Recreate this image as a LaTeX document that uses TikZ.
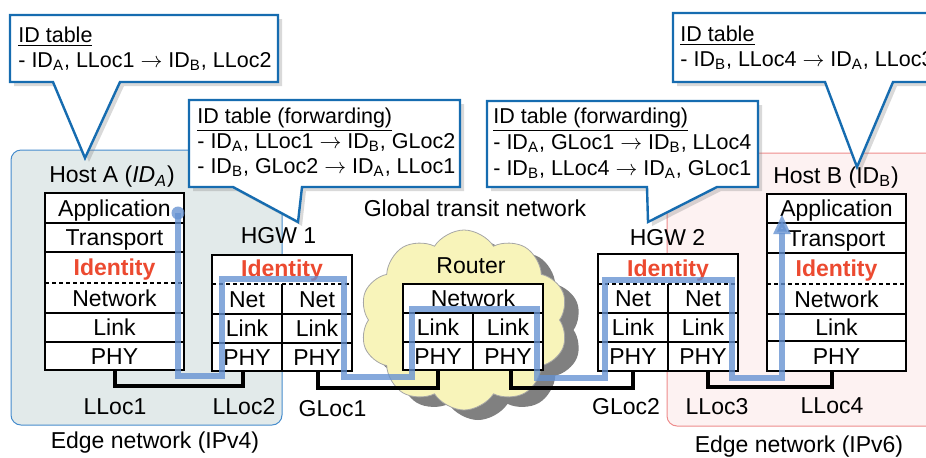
\documentclass[tikz,border=0pt]{standalone}
\usepackage{fontspec}
\setmainfont{Liberation Sans}
\usepackage{tikz}
\usetikzlibrary{arrows.meta,positioning,shapes.symbols,shadows}

\definecolor{calloutblue}{RGB}{22,108,176}
\definecolor{flowblue}{RGB}{100,145,210}
\definecolor{idred}{RGB}{236,74,48}
\definecolor{edgefourfill}{RGB}{226,234,234}
\definecolor{edgefourline}{RGB}{70,140,205}
\definecolor{edgesixfill}{RGB}{253,242,242}
\definecolor{edgesixline}{RGB}{238,140,140}
\definecolor{cloudfill}{RGB}{248,244,186}

\begin{document}
\begin{tikzpicture}[x=0.5pt,y=-0.5pt,
  every node/.style={inner sep=0pt,font=\fontsize{11.5}{13}\selectfont},
  cell/.style={text height=8.2pt,text depth=0pt},
  ident/.style={cell,font=\fontsize{11.5}{13}\selectfont\bfseries,text=idred},
  stack/.style={draw,line width=0.75pt,fill=white},
  sep/.style={line width=0.75pt},
  idsep/.style={line width=0.7pt,dash pattern=on 2pt off 1.5pt},
  edgefour/.style={draw=edgefourline,line width=0.5pt,fill=edgefourfill,rounded corners=5pt},
  edgesix/.style={draw=edgesixline,line width=0.5pt,fill=edgesixfill,rounded corners=5pt},
  callout/.style={draw=calloutblue,line width=1.2pt,fill=white,line join=miter,
    drop shadow={shadow xshift=2pt,shadow yshift=-2pt,opacity=0.3}},
  calltext/.style={anchor=base west,font=\fontsize{10.75}{13}\selectfont},
  router/.style={cloud,cloud puffs=10,cloud puff arc=115,cloud ignores aspect,draw=black!35,
    line width=0.4pt,fill=cloudfill,minimum width=104pt,minimum height=90pt,
    drop shadow={shadow xshift=7pt,shadow yshift=-5pt,fill=black!50,opacity=1}},
  wire/.style={line width=1.75pt,line join=miter},
  flow/.style={line width=3.3pt,flowblue,draw opacity=0.78,fill opacity=0.78,line join=miter},
  to/.style={flow,-{Triangle[width=8pt,length=10pt]}}]

  \clip (0,0) rectangle (926,457);

  \draw[edgefour] (11,150) rectangle (282,425);
  \draw[edgesix] (667,153) rectangle (960,426);

  \node[router] (cloud) at (464,320) {};
  \node[cell] (routername) at (471,265) {Router};
  \node[cell] (transit) at (475,208.5) {Global transit network};

  \draw[wire] (115,370) -- (115,386) -- (243,386) -- (243,371);
  \draw[wire] (318,371) -- (318,388) -- (438,388) -- (438,370);
  \draw[wire] (511,370) -- (511,388) -- (633,388) -- (633,371);
  \draw[wire] (708,371) -- (708,387) -- (832,387) -- (832,371);

  \draw[stack] (45,193) rectangle (184,370);
  \foreach \y in {223,252,313,342} \draw[sep] (45,\y) -- (184,\y);
  \draw[idsep] (45,283) -- (184,283);
  \node[cell] (a-app) at (114.5,208) {Application};
  \node[cell] (a-trans) at (114.5,237.5) {Transport};
  \node[ident] (a-id) at (114.5,267.5) {Identity};
  \node[cell] (a-net) at (114.5,298) {Network};
  \node[cell] (a-link) at (114.5,327.5) {Link};
  \node[cell] (a-phy) at (114.5,356) {PHY};

  \draw[stack] (212,255) rectangle (352,371);
  \foreach \y in {314,343} \draw[sep] (212,\y) -- (352,\y);
  \draw[idsep] (212,284) -- (352,284);
  \draw[sep] (282,284) -- (282,371);
  \node[ident] (g1-id) at (282,268.5) {Identity};
  \node[cell] (g1-netl) at (247,299) {Net};
  \node[cell] (g1-netr) at (317,299) {Net};
  \node[cell] (g1-linkl) at (247,328.5) {Link};
  \node[cell] (g1-linkr) at (317,328.5) {Link};
  \node[cell] (g1-phyl) at (247,357) {PHY};
  \node[cell] (g1-phyr) at (317,357) {PHY};

  \draw[stack] (403,284) rectangle (543,370);
  \foreach \y in {313,342} \draw[sep] (403,\y) -- (543,\y);
  \draw[sep] (473,313) -- (473,370);
  \node[cell] (r-net) at (473,298.5) {Network};
  \node[cell] (r-linkl) at (438,327.5) {Link};
  \node[cell] (r-linkr) at (508,327.5) {Link};
  \node[cell] (r-phyl) at (438,356) {PHY};
  \node[cell] (r-phyr) at (508,356) {PHY};

  \draw[stack] (598,254) rectangle (738,371);
  \foreach \y in {313,342} \draw[sep] (598,\y) -- (738,\y);
  \draw[idsep] (598,284) -- (738,284);
  \draw[sep] (668,284) -- (668,371);
  \node[ident] (g2-id) at (668,268.5) {Identity};
  \node[cell] (g2-netl) at (633,298.5) {Net};
  \node[cell] (g2-netr) at (703,298.5) {Net};
  \node[cell] (g2-linkl) at (633,327.5) {Link};
  \node[cell] (g2-linkr) at (703,327.5) {Link};
  \node[cell] (g2-phyl) at (633,356.5) {PHY};
  \node[cell] (g2-phyr) at (703,356.5) {PHY};

  \draw[stack] (767,194) rectangle (906,371);
  \foreach \y in {223,253,314,341} \draw[sep] (767,\y) -- (906,\y);
  \draw[idsep] (767,284) -- (906,284);
  \node[cell] (b-app) at (836.5,208.5) {Application};
  \node[cell] (b-trans) at (836.5,238) {Transport};
  \node[ident] (b-id) at (836.5,268.5) {Identity};
  \node[cell] (b-net) at (836.5,299) {Network};
  \node[cell] (b-link) at (836.5,327.5) {Link};
  \node[cell] (b-phy) at (836.5,356) {PHY};

  \node[cell] (hosta) at (112,174.5) {Host A (\textit{ID}\textsubscript{\textit{A}})};
  \node[cell] (hostb) at (836,175) {Host B (ID\textsubscript{B})};
  \node[cell] (hgw1) at (278.5,235.5) {HGW 1};
  \node[cell] (hgw2) at (667.5,237.5) {HGW 2};

  \node[cell] (lloc1) at (115,406.5) {LLoc1};
  \node[cell] (lloc2) at (244,406.5) {LLoc2};
  \node[cell] (gloc1) at (332.5,408.5) {GLoc1};
  \node[cell] (gloc2) at (626,406.5) {GLoc2};
  \node[cell] (lloc3) at (717,406.5) {LLoc3};
  \node[cell] (lloc4) at (832,405) {LLoc4};
  \node[cell] (edgefour) at (155,440) {Edge network (IPv4)};
  \node[cell] (edgesix) at (799,444) {Edge network (IPv6)};

  \coordinate (src) at (178,213);
  \coordinate (dst) at (782,214);
  \fill[flowblue,opacity=0.78] (src) circle (6.5);
  \draw[to] (src) -- (178,376) -- (222,376) -- (222,279) -- (344,279) -- (344,377)
    -- (412,377) -- (412,309) -- (537,309) -- (537,378) -- (605,378) -- (605,280)
    -- (732,280) -- (732,378) -- (782,378) -- (dst);

  \draw[callout] (10,15) -- (278,15) -- (278,82) -- (120,82) -- (85,158) -- (53,82) -- (10,82) -- cycle;
  \node[calltext] (ta-head) at (18,42) {\underline{ID table}};
  \node[calltext] (ta-row) at (18,67.5) {- ID\textsubscript{A}, LLoc1 $\rightarrow$ ID\textsubscript{B}, LLoc2};

  \draw[callout] (189,100) -- (460,100) -- (460,187) -- (302,187) -- (298,222) -- (233,187) -- (189,187) -- cycle;
  \node[calltext] (tg1-head) at (197,123.3) {\underline{ID table (forwarding)}};
  \node[calltext] (tg1-rowa) at (197,148.3) {- ID\textsubscript{A}, LLoc1 $\rightarrow$ ID\textsubscript{B}, GLoc2};
  \node[calltext] (tg1-rowb) at (197,173.3) {- ID\textsubscript{B}, GLoc2 $\rightarrow$ ID\textsubscript{A}, LLoc1};

  \draw[callout] (487,101) -- (758,101) -- (758,187) -- (717,187) -- (648,222) -- (647,187) -- (487,187) -- cycle;
  \node[calltext] (tg2-head) at (493,123.5) {\underline{ID table (forwarding)}};
  \node[calltext] (tg2-rowa) at (493,149) {- ID\textsubscript{A}, GLoc1 $\rightarrow$ ID\textsubscript{B}, LLoc4};
  \node[calltext] (tg2-rowb) at (493,175) {- ID\textsubscript{B}, LLoc4 $\rightarrow$ ID\textsubscript{A}, GLoc1};

  \draw[callout] (673,13) -- (960,13) -- (960,82) -- (893,82) -- (857,167) -- (825,82) -- (673,82) -- cycle;
  \node[calltext] (tb-head) at (680,41.7) {\underline{ID table}};
  \node[calltext] (tb-row) at (680,66.7) {- ID\textsubscript{B}, LLoc4 $\rightarrow$ ID\textsubscript{A}, LLoc3};
\end{tikzpicture}
\end{document}
